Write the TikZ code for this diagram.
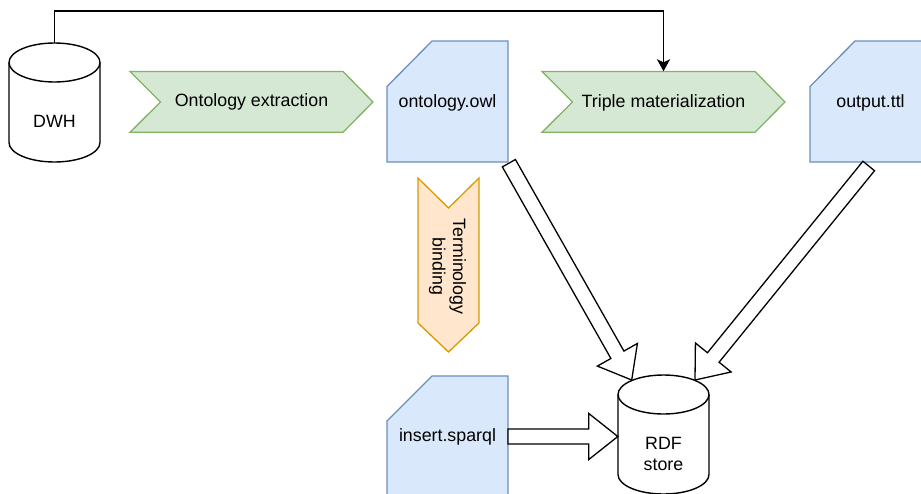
\documentclass[tikz,border=0pt]{standalone}
\usepackage{fontspec}
\setmainfont{Liberation Sans}
\usetikzlibrary{calc,arrows.meta}
\definecolor{bfill}{HTML}{DAE8FC}
\definecolor{bstroke}{HTML}{6C8EBF}
\definecolor{gfill}{HTML}{D5E8D4}
\definecolor{gstroke}{HTML}{82B366}
\definecolor{ofill}{HTML}{FFE6CC}
\definecolor{ostroke}{HTML}{D79B00}
\tikzset{
  lbl/.style={inner sep=0pt, font=\fontsize{17.8}{20.5}\selectfont, align=center},
  shapebox/.style={draw=none, inner sep=0pt, font=\fontsize{17.8}{20.5}\selectfont, align=center},
  cardshape/.style={draw=bstroke, fill=bfill, line width=1.3pt, line join=miter},
  stepgreen/.style={draw=gstroke, fill=gfill, line width=1.3pt, line join=miter},
  steporange/.style={draw=ostroke, fill=ofill, line width=1.3pt, line join=miter},
  cylshape/.style={draw=black, fill=white, line width=1.4pt},
  barrow/.style={draw=black, fill=white, line width=1.3pt, line join=miter},
  conn/.style={draw=black, line width=1.5pt, -{Stealth[length=12pt,width=13pt,inset=3pt]}},
}
\newcommand\flexarr[2]{%
  \coordinate (fa-c) at ($(#2)!29pt!(#1)$);
  \draw[barrow] ($(#1)!7.5pt!90:(#2)$) -- ($(fa-c)!7.5pt!90:(#2)$) -- ($(fa-c)!23pt!90:(#2)$)
    -- (#2) -- ($(fa-c)!23pt!-90:(#2)$) -- ($(fa-c)!7.5pt!-90:(#2)$) -- ($(#1)!7.5pt!-90:(#2)$) -- cycle;}
\begin{document}
\begin{tikzpicture}[x=1pt,y=-1pt]
\useasboundingbox (0,0) rectangle (921,493);
\clip (0,0) rectangle (921,493);

% DWH cylinder
\draw[cylshape] (9,62.5) -- (9,142.5) arc[start angle=180,end angle=360,x radius=45.5pt,y radius=19.5pt]
  -- (100,62.5) arc[start angle=0,end angle=180,x radius=45.5pt,y radius=19.5pt] -- cycle;
\draw[cylshape, fill=none] (9,62.5) arc[start angle=180,end angle=360,x radius=45.5pt,y radius=19.5pt];
\node[shapebox, minimum width=91pt, minimum height=119pt] (dwh) at (54.5,102.5) {};
\node[lbl] (dwhtext) at (54.5,121) {DWH};

% Ontology extraction
\draw[stepgreen] (130,71.5) -- (343,71.5) -- (373,102) -- (343,132.3) -- (130,132.3) -- (160.5,102) -- cycle;
\node[shapebox, minimum width=243pt, minimum height=61pt] (extract) at (251.5,102) {Ontology extraction};

% ontology.owl
\draw[cardshape] (432,41) -- (508,41) -- (508,162) -- (387,162) -- (387,86.5) -- cycle;
\node[shapebox, minimum width=121pt, minimum height=121pt] (owl) at (447.5,101.5) {};
\node[lbl] (owltext) at (447.5,103) {ontology.owl};

% Triple materialization
\draw[stepgreen] (542,71.5) -- (755,71.5) -- (785,102) -- (755,132.3) -- (542,132.3) -- (572.5,102) -- cycle;
\node[shapebox, minimum width=243pt, minimum height=61pt] (triple) at (663.5,102) {};
\node[lbl] (tripletext) at (663.5,103) {Triple materialization};

% output.ttl
\draw[cardshape] (855,41) -- (931,41) -- (931,162) -- (810,162) -- (810,86.5) -- cycle;
\node[shapebox, minimum width=121pt, minimum height=121pt] (ttl) at (870.5,101.5) {};
\node[lbl] (ttltext) at (870.5,103) {output.ttl};

% Terminology binding
\draw[steporange] (418,178) -- (448.5,208) -- (479,178) -- (479,323) -- (448.5,352) -- (418,323) -- cycle;
\node[lbl, rotate=-90] (term) at (447.5,266.5) {Terminology\\binding};

% insert.sparql
\draw[cardshape] (432,376) -- (508,376) -- (508,505) -- (387,505) -- (387,421) -- cycle;
\node[shapebox, minimum width=121pt, minimum height=124pt] (sparql) at (447.5,438) {};
\node[lbl] (sparqltext) at (447.5,437) {insert.sparql};

% RDF store cylinder
\draw[cylshape] (618,394.5) -- (618,474.5) arc[start angle=180,end angle=360,x radius=45.5pt,y radius=19.5pt]
  -- (709,394.5) arc[start angle=0,end angle=180,x radius=45.5pt,y radius=19.5pt] -- cycle;
\draw[cylshape, fill=none] (618,394.5) arc[start angle=180,end angle=360,x radius=45.5pt,y radius=19.5pt];
\node[shapebox, minimum width=91pt, minimum height=119pt] (rdf) at (663.5,434.5) {};
\node[lbl] (rdftext) at (663.5,454) {RDF\\store};

% connector DWH -> Triple materialization
\coordinate (topline) at (0,11);
\draw[conn] (dwh.north) |- (triple.north |- topline) -- (triple.north);

% block arrows
\coordinate (a1s) at ($(owl.south east)+(0.7,1)$);
\coordinate (a1e) at (631.7,380);
\coordinate (a2s) at ($(ttl.south)+(-1.8,3.8)$);
\coordinate (a2e) at (695,380);
\coordinate (a3s) at (508,436.5);
\coordinate (a3e) at (rdf.west |- a3s);
\flexarr{a1s}{a1e}
\flexarr{a2s}{a2e}
\flexarr{a3s}{a3e}
\end{tikzpicture}
\end{document}
